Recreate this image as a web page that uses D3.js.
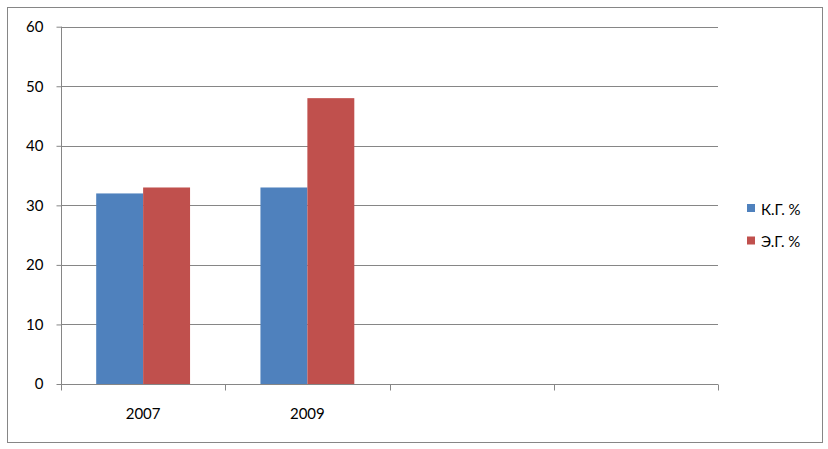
<!DOCTYPE html>
<html>
<head>
<meta charset="utf-8">
<script src="https://cdn.jsdelivr.net/npm/d3@7"></script>
<style>
  body { margin: 0; background: #fff; }
  svg text { font-family: Lato, "Open Sans", sans-serif; font-size: 15px; fill: #000; }
</style>
</head>
<body>
<svg id="chart"></svg>
<script>
// chart data
const categories = ['2007', '2009', '', ''];
const seriesNames = ['К.Г. %', 'Э.Г. %'];
const kgValues = [32, 33, null, null];
const egValues = [33, 48, null, null];
const yTicks = [0, 10, 20, 30, 40, 50, 60];

const colors = ['#4F81BD', '#C0504D'];

const w = 828, h = 449;
const svg = d3.select('#chart').attr('width', w).attr('height', h);

// outer frame
svg.append('rect')
    .attr('x', 7.5).attr('y', 7.5)
    .attr('width', 815).attr('height', 435)
    .attr('fill', '#fff')
    .attr('stroke', '#868686')
    .attr('stroke-width', 1);

const plotL = 61, plotR = 718, plotT = 26.7, plotB = 384;

const x = d3.scaleBand().domain(d3.range(categories.length)).range([plotL, plotR]);
const y = d3.scaleLinear().domain([0, 60]).range([plotB, plotT]);

// gridlines
svg.append('g')
    .selectAll('line')
    .data(yTicks.filter(d => d > 0))
    .join('line')
    .attr('x1', plotL).attr('x2', plotR)
    .attr('y1', d => Math.round(y(d)) + 0.5).attr('y2', d => Math.round(y(d)) + 0.5)
    .attr('stroke', '#868686');

// bars - gap width 150%
const groupW = x.bandwidth();
const barW = groupW / 3.5;
const offset = barW * 0.75;
const series = [kgValues, egValues];

series.forEach((vals, si) => {
    svg.append('g')
        .selectAll('rect')
        .data(vals.map((v, i) => ({ v, i })).filter(d => d.v != null))
        .join('rect')
        .attr('x', d => x(d.i) + offset + si * barW)
        .attr('y', d => y(d.v))
        .attr('width', barW)
        .attr('height', d => y(0) - y(d.v))
        .attr('fill', colors[si]);
});

// y axis
const yAxis = svg.append('g')
    .attr('transform', `translate(${plotL + 0.5},0)`)
    .call(d3.axisLeft(y).tickValues(yTicks).tickSize(5).tickPadding(13).tickFormat(d3.format('d')));
yAxis.select('.domain').attr('stroke', '#868686').attr('d', `M0,${plotT}V${plotB}`);
yAxis.selectAll('.tick line').attr('stroke', '#868686');
yAxis.selectAll('text').attr('font-family', null).attr('font-size', null);
yAxis.attr('font-family', null).attr('font-size', null);

// x axis
const xAxis = svg.append('g')
    .attr('transform', `translate(0,${Math.round(plotB) + 0.5})`);
xAxis.append('line')
    .attr('x1', plotL).attr('x2', plotR)
    .attr('stroke', '#868686');
xAxis.selectAll('.xt')
    .data(d3.range(categories.length + 1))
    .join('line')
    .attr('class', 'xt')
    .attr('x1', i => Math.round(plotL + i * groupW) + 0.5)
    .attr('x2', i => Math.round(plotL + i * groupW) + 0.5)
    .attr('y1', 0).attr('y2', 6)
    .attr('stroke', '#868686');
xAxis.selectAll('.xl')
    .data(categories)
    .join('text')
    .attr('class', 'xl')
    .attr('x', (d, i) => x(i) + groupW / 2)
    .attr('y', 34)
    .attr('text-anchor', 'middle')
    .text(d => d);

// legend
const legend = svg.append('g').attr('transform', 'translate(747,204)');
seriesNames.forEach((name, i) => {
    const g = legend.append('g').attr('transform', `translate(0,${i * 32.5})`);
    g.append('rect').attr('width', 8).attr('height', 8).attr('fill', colors[i]);
    g.append('text').attr('x', 14).attr('y', 10.5).text(name);
});
</script>
</body>
</html>
